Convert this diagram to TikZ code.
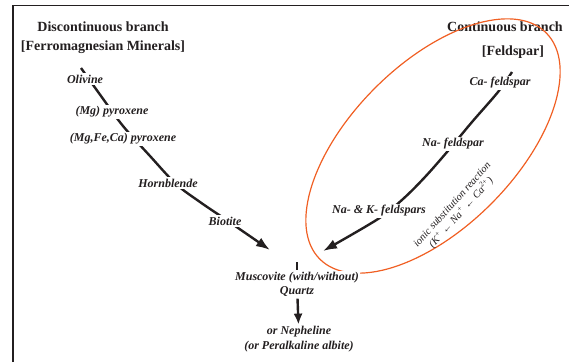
\documentclass[tikz,border=0pt]{standalone}
\usepackage{fontspec}
\setmainfont{Liberation Serif}
\usetikzlibrary{arrows.meta}
\definecolor{ink}{RGB}{35,31,32}
\definecolor{ringorange}{RGB}{240,95,35}
\tikzset{>={Latex[length=14pt,width=10pt]}}

\begin{document}
\begin{tikzpicture}[x=1pt,y=-1pt,
  branch/.style={line width=2.4pt,ink},
  mineral/.style={font=\fontsize{12}{14.5}\selectfont\bfseries\itshape,ink,fill=white,inner sep=1.5pt,align=center},
  heading/.style={font=\fontsize{14}{16}\selectfont\bfseries,ink}]
  \useasboundingbox (0,0) rectangle (569,362);
  % Frame
  \draw[line width=1.6pt,ink] (13,362) -- (13,5.5) -- (569,5.5);

  % Headings
  \node[heading] (dischead) at (103,27) {Discontinuous branch};
  \node[heading] (ferrohead) at (103,47) {[Ferromagnesian Minerals]};
  \node[heading] (conthead) at (505,27) {Continuous branch};
  \node[heading] (feldhead) at (513,52) {[Feldspar]};

  % Discontinuous path
  \coordinate (l0) at (81,68);
  \coordinate (l1) at (101,96);
  \coordinate (l2) at (123,126);
  \coordinate (l3) at (150,156);
  \coordinate (l4) at (176,184);
  \coordinate (l5) at (200,202);
  \coordinate (l6) at (225,219);
  \coordinate (ltip) at (270,250);
  \draw[branch,->] plot[smooth,tension=0.55] coordinates {(l0) (l1) (l2) (l3) (l4) (l5) (l6) (ltip)};

  % Continuous path
  \coordinate (r0) at (512,72);
  \coordinate (r1) at (498,92);
  \coordinate (r2) at (472,122);
  \coordinate (r3) at (447,152);
  \coordinate (r4) at (425,177);
  \coordinate (r5) at (403,199);
  \coordinate (r6) at (378,219);
  \coordinate (rtip) at (323,251);
  \draw[branch,->] plot[smooth,tension=0.55] coordinates {(r0) (r1) (r2) (r3) (r4) (r5) (r6) (rtip)};

  % Feldspar ring
  \draw[ringorange,line width=1.2pt] (433,146) ellipse [x radius=160,y radius=82,rotate=45];

  % Minerals
  \node[mineral] (olivine) at (85,79) {Olivine};
  \node[mineral] (mgpx) at (112,112) {(Mg) pyroxene};
  \node[mineral] (fecapx) at (123,139) {(Mg,Fe,Ca) pyroxene};
  \node[mineral] (hornblende) at (168,183) {Hornblende};
  \node[mineral] (biotite) at (225,221) {Biotite};
  \node[mineral] (cafeld) at (500,83) {Ca- feldspar};
  \node[mineral] (nafeld) at (453,144) {Na- feldspar};
  \node[mineral] (nakfeld) at (379,211) {Na- \& K- feldspars};
  \node[mineral] (muscovite) at (297,284.5) {Muscovite (with/without)\\Quartz};
  \node[mineral] (nepheline) at (299,339) {or Nepheline\\(or Peralkaline albite)};

  \node[rotate=48,font=\fontsize{10.5}{12}\selectfont\itshape,ink,align=center] (ionic) at (457,209)
    {ionic substitution reaction\\(K\textsuperscript{+} ← Na\textsuperscript{+} ← Ca\textsuperscript{2+})};

  % Residual stage
  \coordinate (mstub) at (297,262);
  \draw[branch] (mstub) -- (muscovite.north);
  \draw[branch,-{Latex[length=11pt,width=9pt]}] (muscovite) -- (nepheline);
\end{tikzpicture}
\end{document}
